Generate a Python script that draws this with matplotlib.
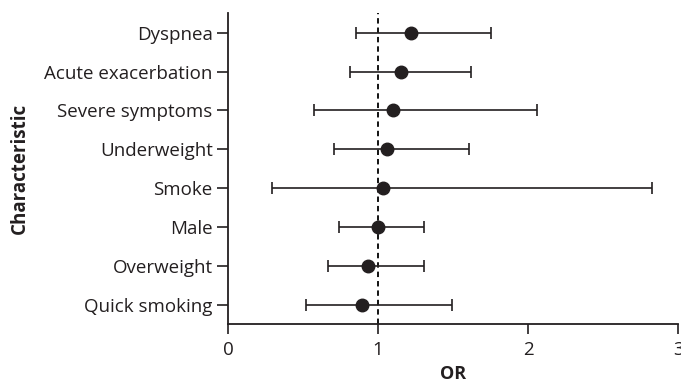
import matplotlib.pyplot as plt
import numpy as np

plt.rcParams['font.family'] = ['Open Sans', 'DejaVu Sans']

characteristics = ['Dyspnea', 'Acute exacerbation', 'Severe symptoms', 'Underweight',
                   'Smoke', 'Male', 'Overweight', 'Quick smoking']
odds_ratio = [1.22, 1.155, 1.10, 1.06, 1.03, 1.00, 0.93, 0.89]
ci_low = [0.853, 0.81, 0.573, 0.706, 0.296, 0.741, 0.668, 0.519]
ci_high = [1.755, 1.62, 2.06, 1.605, 2.826, 1.305, 1.305, 1.49]

odds = np.array(odds_ratio)
err = [odds - np.array(ci_low), np.array(ci_high) - odds]
ypos = np.arange(len(characteristics))[::-1] + 1

W, H = 681, 385
fig = plt.figure(figsize=(W / 100, H / 100), dpi=100)
ax = fig.add_axes([228 / W, 1 - 323.5 / H, 450 / W, (323.5 - 12.5) / H])

ax.axvline(1, color='black', lw=1.3, ls=(0, (3, 2.2)), zorder=1)
ax.errorbar(odds, ypos, xerr=err, fmt='o', color='#231f20', ecolor='#231f20',
            elinewidth=1.2, capsize=4.3, capthick=1.2, markersize=9, zorder=3)

ax.set_xlim(0, 3)
ax.set_ylim(0.52, 8.52)
ax.set_xticks([0, 1, 2, 3])
ax.set_yticks(ypos)
ax.set_yticklabels(characteristics)
ax.tick_params(axis='both', direction='out', width=1.2, labelsize=13.5, colors='#231f20')
ax.tick_params(axis='x', length=7.5, pad=5)
ax.tick_params(axis='y', length=8, pad=3)
for side in ['top', 'right']:
    ax.spines[side].set_visible(False)
for side in ['left', 'bottom']:
    ax.spines[side].set_linewidth(1.3)
    ax.spines[side].set_color('#231f20')

ax.set_xlabel('OR', fontweight='bold', fontsize=13, color='#231f20')
ax.set_ylabel('Characteristic', fontweight='bold', fontsize=13.5, color='#231f20')
ax.xaxis.set_label_coords(0.5, -(365 - 323.5) / 311)
ax.xaxis.label.set_verticalalignment('top')
ax.yaxis.set_label_coords(-(228 - 20) / 450, 0.5)
ax.yaxis.label.set_verticalalignment('center')

fig.savefig('out.png', dpi=100)
